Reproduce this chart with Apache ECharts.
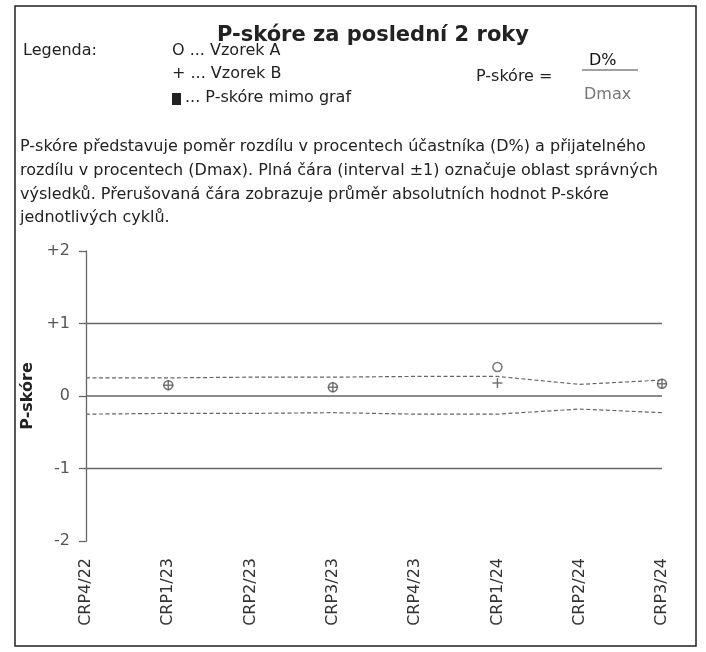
<!DOCTYPE html>
<html><head><meta charset="utf-8">
<script src="https://cdn.jsdelivr.net/npm/echarts@6/dist/echarts.min.js"></script>
<style>html,body{margin:0;padding:0;background:#fff}#c{width:706px;height:652px}</style>
</head><body><div id="c"></div>
<script>
const categories = ['CRP4/22','CRP1/23','CRP2/23','CRP3/23','CRP4/23','CRP1/24','CRP2/24','CRP3/24'];
const vzorekA = [null, 0.15, null, 0.12, null, 0.40, null, 0.17];
const vzorekB = [null, 0.15, null, 0.12, null, 0.18, null, 0.17];
const upperMean = [0.25, 0.25, 0.26, 0.26, 0.27, 0.27, 0.16, 0.22];
const lowerMean = [-0.25, -0.24, -0.24, -0.23, -0.25, -0.25, -0.18, -0.23];
const limitUpper = [1, 1, 1, 1, 1, 1, 1, 1];
const limitZero = [0, 0, 0, 0, 0, 0, 0, 0];
const limitLower = [-1, -1, -1, -1, -1, -1, -1, -1];
const yTickLabels = {'2':'+2','1':'+1','0':'0','-1':'-1','-2':'-2'};

const F = 'DejaVu Sans';
const lineCol = '#666';
const chart = echarts.init(document.getElementById('c'), null, {renderer:'canvas'});
const plus = 'path://M0,5 L10,5 M5,0 L5,10';
const paraLines = [
  'P-skóre představuje poměr rozdílu v procentech účastníka (D%) a přijatelného',
  'rozdílu v procentech (Dmax). Plná čára (interval ±1) označuje oblast správných',
  'výsledků. Přerušovaná čára zobrazuje průměr absolutních hodnot P-skóre',
  'jednotlivých cyklů.'
];
const graphics = [
  {type:'rect', shape:{x:15,y:6,width:681,height:640}, style:{fill:'none', stroke:'#222', lineWidth:1.5}, z:0},
  {type:'text', left:23, top:43, style:{text:'Legenda:', font:'16px '+F, fill:'#222'}},
  {type:'text', left:172, top:43, style:{text:'O ... Vzorek A', font:'16px '+F, fill:'#222'}},
  {type:'text', left:172, top:66, style:{text:'+ ... Vzorek B', font:'16px '+F, fill:'#222'}},
  {type:'rect', shape:{x:172,y:93,width:9,height:12}, style:{fill:'#222'}},
  {type:'text', left:185, top:90, style:{text:'... P-skóre mimo graf', font:'16px '+F, fill:'#222'}},
  {type:'text', left:476, top:69, style:{text:'P-skóre =', font:'16px '+F, fill:'#222'}},
  {type:'text', left:589, top:53, style:{text:'D%', font:'16px '+F, fill:'#111'}},
  {type:'line', shape:{x1:582,y1:70,x2:638,y2:70}, style:{stroke:'#444', lineWidth:1}},
  {type:'text', left:584, top:87, style:{text:'Dmax', font:'16px '+F, fill:'#777'}}
];
paraLines.forEach((t,i)=>graphics.push({type:'text', left:20, top:139+i*23.7, style:{text:t, font:'16px '+F, fill:'#222'}}));

function limitSeries(name, data, dashed){
  return {name, type:'line', data, symbol:'none', silent:true,
    lineStyle:{color:lineCol, width: dashed?1.2:1.6, type: dashed?[4,2.5]:'solid'}, z:2, animation:false};
}

chart.setOption({
  animation:false,
  title:{text:'P-skóre za poslední 2 roky', left:368, textAlign:'center', top:20,
    textStyle:{fontFamily:F, fontWeight:'bold', fontSize:21, color:'#222'}},
  graphic: graphics,
  grid:{left:86, right:44, top:251, bottom:111},
  xAxis:{type:'category', data:categories, boundaryGap:false,
    axisLine:{show:false}, axisTick:{show:false},
    axisLabel:{rotate:90, fontFamily:F, fontSize:16, color:'#333', margin:17, interval:0}},
  yAxis:{type:'value', min:-2, max:2, interval:1,
    name:'P-skóre', nameLocation:'middle', nameGap:42,
    nameTextStyle:{fontFamily:F, fontWeight:'bold', fontSize:16, color:'#222'},
    axisLine:{show:true, lineStyle:{color:lineCol, width:1.3}},
    axisTick:{show:true, length:7, lineStyle:{color:lineCol, width:1.3}},
    splitLine:{show:false},
    axisLabel:{fontFamily:F, fontSize:16, color:'#555', margin:16,
      formatter:v=>yTickLabels[String(v)]}},
  series:[
    limitSeries('+1', limitUpper, false),
    limitSeries('0', limitZero, false),
    limitSeries('-1', limitLower, false),
    limitSeries('mean+', upperMean, true),
    limitSeries('mean-', lowerMean, true),
    {name:'Vzorek A', type:'scatter', data:vzorekA, symbol:'circle', symbolSize:9,
      itemStyle:{color:'#fff', borderColor:'#555', borderWidth:1.5}, z:5},
    {name:'Vzorek B', type:'scatter', data:vzorekB, symbol:plus, symbolSize:10,
      itemStyle:{color:'none', borderColor:'#555', borderWidth:1.5}, z:6}
  ]
});
</script></body></html>
